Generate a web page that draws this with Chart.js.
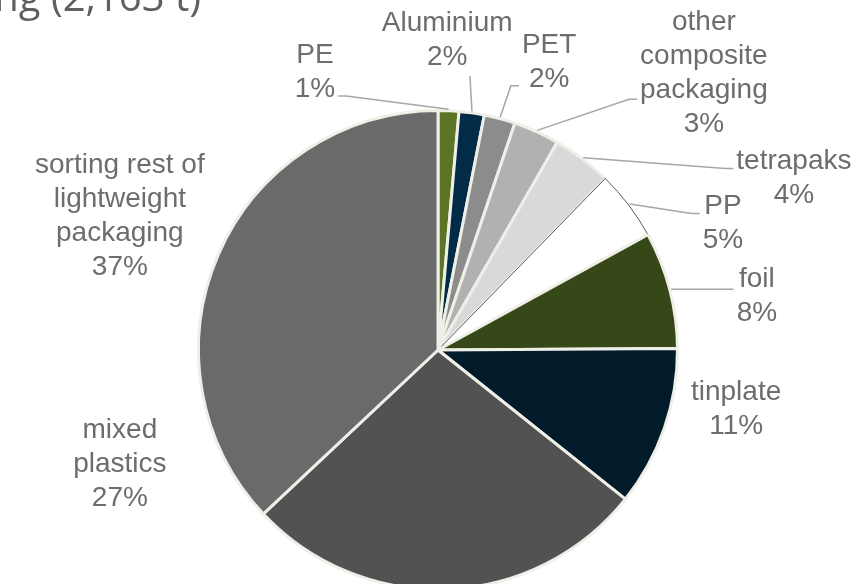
<!DOCTYPE html>
<html>
<head>
<meta charset="utf-8">
<script src="https://cdn.jsdelivr.net/npm/chart.js@4/dist/chart.umd.min.js"></script>
<style>
  html, body { margin: 0; padding: 0; background: #fff; overflow: hidden; }
  #wrap { width: 867px; height: 584px; overflow: hidden; position: relative; }
  canvas { display: block; }
</style>
</head>
<body>
<div id="wrap"><canvas id="pie" width="867" height="640"></canvas></div>
<script>
// ================= Data =================
const categories = [
  ['PE'], ['Aluminium'], ['PET'], ['other', 'composite', 'packaging'],
  ['tetrapaks'], ['PP'], ['foil'], ['tinplate'],
  ['mixed', 'plastics'], ['sorting rest of', 'lightweight', 'packaging']
];
// share of 2,163 t (%)
const shares = [1.4, 1.7, 2.1, 3.1, 4.0, 4.7, 7.9, 10.8, 27.3, 37.0];

const sliceColors = [
  '#5b7426', '#022b47', '#8c8c8c', '#b1b1b1', '#d9d9d9',
  '#ffffff', '#374818', '#021b2b', '#525252', '#6a6a6a'
];
const CREAM = '#efefe8';
const TEXT = '#6d6d6d';

// label placement: angle (deg, clockwise from top) and distance in radii
const labelSpots = [
  { angle: 336.1, dist: 1.261, leader: true },
  { angle: 1.7,   dist: 1.287, leader: true },
  { angle: 21.1,  dist: 1.281, leader: true },
  { angle: 43.9,  dist: 1.591, leader: true, attach: 2 },
  { angle: 64.3,  dist: 1.639, leader: true },
  { angle: 66.1,  dist: 1.293, leader: true },
  { angle: 80.4,  dist: 1.342, leader: true },
  { angle: 101.2, dist: 1.261, leader: false },
  { angle: 250.3, dist: 1.402, leader: false },
  { angle: 292.8, dist: 1.432, leader: false }
];

// ================= Labels + leader lines =================
const labelPlugin = {
  id: 'sliceLabels',
  afterDraw(chart) {
    const ctx = chart.ctx;
    const arcs = chart.getDatasetMeta(0).data;
    const lh = 34;
    ctx.save();
    ctx.font = '28px "Liberation Sans", Arial, sans-serif';
    ctx.textAlign = 'center';
    ctx.textBaseline = 'middle';

    arcs.forEach((arc, i) => {
      const p = arc.getProps(['x', 'y', 'outerRadius', 'startAngle', 'endAngle'], true);
      const r = p.outerRadius + 1.5;
      const lines = [...categories[i], Math.round(shares[i]) + '%'];
      const spot = labelSpots[i];
      const a = (spot.angle - 90) * Math.PI / 180;
      const cx = p.x + Math.cos(a) * spot.dist * r;
      const cy = p.y + Math.sin(a) * spot.dist * r;
      const top = cy - lines.length * lh / 2;
      const bottom = top + lines.length * lh;
      const w = Math.max(...lines.map(l => ctx.measureText(l).width));
      const left = cx - w / 2, right = cx + w / 2;

      if (spot.leader) {
        const mid = (p.startAngle + p.endAngle) / 2;
        const sx = p.x + Math.cos(mid) * r, sy = p.y + Math.sin(mid) * r;
        ctx.strokeStyle = '#a6a6a6';
        ctx.lineWidth = 1.5;
        ctx.beginPath();
        ctx.moveTo(sx, sy);
        if (sx >= left && sx <= right) {
          ctx.lineTo(sx - 2, bottom + 2);
        } else {
          let ey = Math.min(Math.max(sy, top + 0.7 * lh), bottom - 0.3 * lh);
          if (spot.attach !== undefined) ey = top + lh * (spot.attach + 0.75);
          const dir = sx < left ? 1 : -1;
          const ex = dir > 0 ? left - 3 : right + 3;
          ctx.lineTo(ex - dir * 8, ey);
          ctx.lineTo(ex, ey);
        }
        ctx.stroke();
      }

      ctx.fillStyle = TEXT;
      lines.forEach((l, k) => ctx.fillText(l, cx, top + lh * (k + 0.5)));
    });

    // title, cut off at the page edge
    ctx.font = '40px "Open Sans", sans-serif';
    ctx.fillStyle = '#606060';
    ctx.textAlign = 'right';
    ctx.textBaseline = 'alphabetic';
    ctx.fillText('ng (2,163 t)', 201, 11);
    ctx.restore();
  }
};

// ================= Chart =================
new Chart(document.getElementById('pie'), {
  type: 'pie',
  data: {
    labels: categories.map(c => c.join(' ')),
    datasets: [{
      data: shares,
      backgroundColor: sliceColors,
      borderColor: sliceColors.map((c, i) => i === 5 ? '#5a5a5a' : CREAM),
      borderWidth: sliceColors.map((c, i) => i === 5 ? 1 : 3)
    }]
  },
  options: {
    responsive: false,
    animation: false,
    events: [],
    layout: { padding: { left: 197, top: 109, right: 188, bottom: 49 } },
    plugins: {
      legend: { display: false },
      tooltip: { enabled: false },
      title: { display: false }
    }
  },
  plugins: [labelPlugin]
});
</script>
</body>
</html>
